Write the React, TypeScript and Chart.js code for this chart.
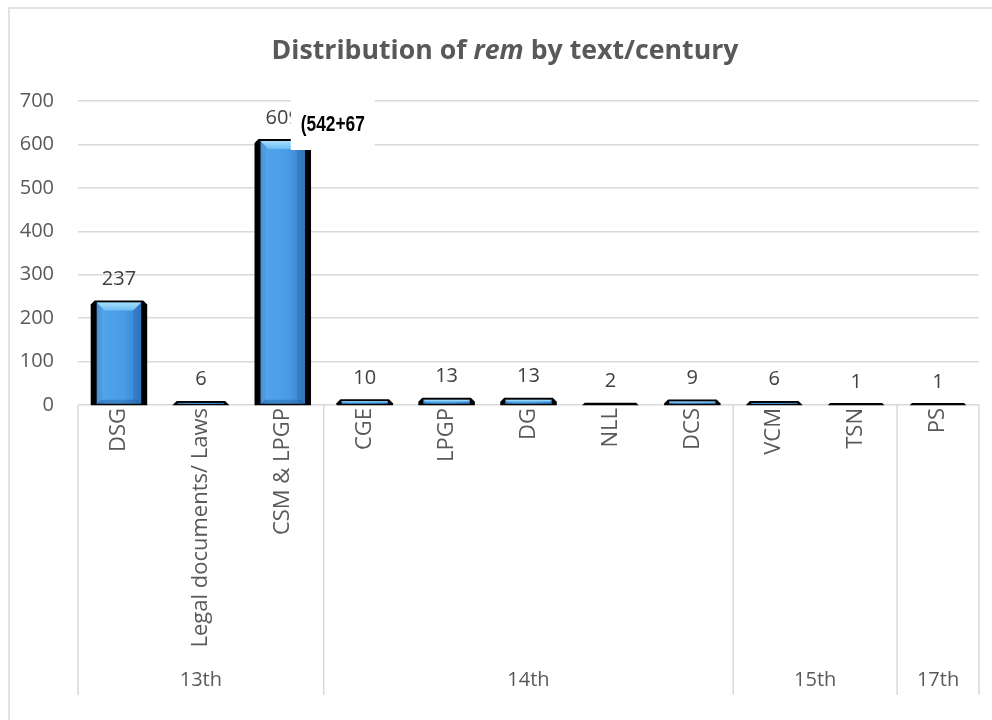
import React, { useEffect, useRef } from "react";
import { Chart, registerables } from "chart.js";

Chart.register(...registerables);

// Texts (first axis level) and the number of occurrences of "rem" in each
const texts = [
  "DSG",
  "Legal documents/ Laws",
  "CSM & LPGP",
  "CGE",
  "LPGP",
  "DG",
  "NLL",
  "DCS",
  "VCM",
  "TSN",
  "PS",
];
const counts = [237, 6, 609, 10, 13, 13, 2, 9, 6, 1, 1];

// Second axis level: centuries and how many texts belong to each
const centuries = ["13th", "14th", "15th", "17th"];
const centurySpans = [3, 5, 2, 1];

// Value axis
const yMin = 0;
const yMax = 700;
const yStep = 100;

// Title pieces (the word "rem" is set in italics)
const titleParts = [
  { text: "Distribution of ", italic: false },
  { text: "rem", italic: true },
  { text: " by text/century", italic: false },
];

// Breakdown note pasted over the CSM & LPGP bar
const csmNote = "(542+67";

const FONT = "'Open Sans', sans-serif";
const GRID = "#d9d9d9";
const TEXT = "#595959";

const framePlugin = {
  id: "frame",
  beforeDraw(chart: any) {
    const ctx = chart.ctx;
    ctx.save();
    ctx.fillStyle = "#ffffff";
    ctx.fillRect(0, 0, chart.width, chart.height);
    ctx.strokeStyle = GRID;
    ctx.lineWidth = 1.5;
    ctx.beginPath();
    ctx.moveTo(9, chart.height + 2);
    ctx.lineTo(9, 8);
    ctx.lineTo(chart.width + 2, 8);
    ctx.stroke();
    ctx.restore();
  },
};

const titlePlugin = {
  id: "richTitle",
  afterDraw(chart: any) {
    const ctx = chart.ctx;
    ctx.save();
    const size = 26.7;
    const fontFor = (italic: boolean) => `${italic ? "italic " : ""}bold ${size}px ${FONT}`;
    let total = 0;
    const widths = titleParts.map((p) => {
      ctx.font = fontFor(p.italic);
      const w = ctx.measureText(p.text).width;
      total += w;
      return w;
    });
    let x = 505 - total / 2;
    ctx.fillStyle = TEXT;
    ctx.textBaseline = "alphabetic";
    ctx.textAlign = "left";
    titleParts.forEach((p, i) => {
      ctx.font = fontFor(p.italic);
      ctx.fillText(p.text, x, 59);
      x += widths[i];
    });
    ctx.restore();
  },
};

const bevelBarsPlugin = {
  id: "bevelBars",
  afterDatasetsDraw(chart: any) {
    const ctx = chart.ctx;
    const meta = chart.getDatasetMeta(0);
    ctx.save();
    meta.data.forEach((el: any) => {
      const { x, y, base, width } = el.getProps(["x", "y", "base", "width"], true);
      const L = x - width / 2;
      const R = x + width / 2;
      const top = y - 1.5;
      const h = base + 1 - top;
      const c = Math.min(4, h);

      // dark outer body with chamfered top corners
      ctx.fillStyle = "#000000";
      ctx.beginPath();
      ctx.moveTo(L, base + 1);
      ctx.lineTo(L, top + c);
      ctx.lineTo(L + c, top);
      ctx.lineTo(R - c, top);
      ctx.lineTo(R, top + c);
      ctx.lineTo(R, base + 1);
      ctx.closePath();
      ctx.fill();

      const inset = h > 14 ? 6 : c + 1;
      const iL = L + inset;
      const iR = R - inset;
      const iT = top + 2;
      const iB = base - 0.5;
      if (iB - iT < 0.8) return;

      const g = ctx.createLinearGradient(iL, 0, iR, 0);
      g.addColorStop(0, "#3a88d2");
      g.addColorStop(0.2, "#4ea2ea");
      g.addColorStop(0.6, "#4a9ce6");
      g.addColorStop(1, "#3681cc");
      ctx.fillStyle = g;
      ctx.fillRect(iL, iT, iR - iL, iB - iT);

      const bv = Math.min(8, (iB - iT) / 2, (iR - iL) / 2);
      // top bevel highlight
      const tg = ctx.createLinearGradient(0, iT, 0, iT + bv);
      tg.addColorStop(0, "#a6defc");
      tg.addColorStop(1, "#6cbcf4");
      ctx.fillStyle = tg;
      ctx.beginPath();
      ctx.moveTo(iL, iT);
      ctx.lineTo(iR, iT);
      ctx.lineTo(iR - bv, iT + bv);
      ctx.lineTo(iL + bv, iT + bv);
      ctx.closePath();
      ctx.fill();

      if (iB - iT > 16) {
        const bb = Math.min(4, bv);
        // left facet slightly lighter
        ctx.fillStyle = "rgba(255,255,255,0.07)";
        ctx.beginPath();
        ctx.moveTo(iL, iT);
        ctx.lineTo(iL + bv, iT + bv);
        ctx.lineTo(iL + bv, iB - bb);
        ctx.lineTo(iL, iB);
        ctx.closePath();
        ctx.fill();
        // right facet slightly darker
        ctx.fillStyle = "rgba(0,30,80,0.12)";
        ctx.beginPath();
        ctx.moveTo(iR, iT);
        ctx.lineTo(iR - bv, iT + bv);
        ctx.lineTo(iR - bv, iB - bb);
        ctx.lineTo(iR, iB);
        ctx.closePath();
        ctx.fill();
        // bottom facet darker
        ctx.fillStyle = "rgba(0,40,100,0.22)";
        ctx.beginPath();
        ctx.moveTo(iL, iB);
        ctx.lineTo(iL + bb, iB - bb);
        ctx.lineTo(iR - bb, iB - bb);
        ctx.lineTo(iR, iB);
        ctx.closePath();
        ctx.fill();
      }
    });

    // value labels above each bar
    ctx.fillStyle = "#404040";
    ctx.font = `20px ${FONT}`;
    ctx.textAlign = "center";
    ctx.textBaseline = "alphabetic";
    meta.data.forEach((el: any, i: number) => {
      const { x, y } = el.getProps(["x", "y"], true);
      ctx.fillText(String(counts[i]), x, y - 17);
    });
    ctx.restore();
  },
};

const centuryAxisPlugin = {
  id: "centuryAxis",
  afterDraw(chart: any) {
    const ctx = chart.ctx;
    const xs = chart.scales.x;
    const area = chart.chartArea;
    const step = xs.getPixelForValue(1) - xs.getPixelForValue(0);
    const left = xs.getPixelForValue(0) - step / 2;
    const bottom = xs.bottom;
    ctx.save();
    ctx.strokeStyle = GRID;
    ctx.lineWidth = 1.5;
    let idx = 0;
    const bounds: number[] = [left];
    centurySpans.forEach((n) => {
      idx += n;
      bounds.push(left + idx * step);
    });
    ctx.beginPath();
    bounds.forEach((bx) => {
      ctx.moveTo(bx, area.bottom);
      ctx.lineTo(bx, bottom);
    });
    ctx.stroke();
    ctx.fillStyle = TEXT;
    ctx.font = `20px ${FONT}`;
    ctx.textAlign = "center";
    ctx.textBaseline = "middle";
    centuries.forEach((c, i) => {
      ctx.fillText(c, (bounds[i] + bounds[i + 1]) / 2, bottom - 15);
    });
    ctx.restore();
  },
};

const notePlugin = {
  id: "csmNote",
  afterDraw(chart: any) {
    const ctx = chart.ctx;
    const xs = chart.scales.x;
    const ys = chart.scales.y;
    const cx = xs.getPixelForValue(2);
    const boxL = cx + 8;
    const boxT = ys.getPixelForValue(yMax) - 1;
    ctx.save();
    ctx.fillStyle = "#ffffff";
    ctx.fillRect(boxL, boxT, 84, 50);
    ctx.font = `bold 22px 'Liberation Sans', Arial, sans-serif`;
    const w = ctx.measureText(csmNote).width;
    const sx = 64 / w;
    ctx.translate(boxL + 10, boxT + 31);
    ctx.scale(sx, 1);
    ctx.fillStyle = "#000000";
    ctx.textAlign = "left";
    ctx.textBaseline = "alphabetic";
    ctx.fillText(csmNote, 0, 0);
    ctx.restore();
  },
};

function RemChart() {
  const ref = useRef<HTMLCanvasElement | null>(null);

  useEffect(() => {
    if (!ref.current) return;
    const chart = new Chart(ref.current, {
      type: "bar",
      data: {
        labels: texts,
        datasets: [
          {
            data: counts,
            backgroundColor: "rgba(0,0,0,0)",
            borderWidth: 0,
            categoryPercentage: 1,
            barPercentage: 0.69,
          },
        ],
      },
      options: {
        animation: false,
        responsive: false,
        maintainAspectRatio: false,
        layout: { padding: { top: 101, right: 13, bottom: 25, left: 0 } },
        plugins: {
          legend: { display: false },
          title: { display: false },
          tooltip: { enabled: false },
        },
        scales: {
          x: {
            grid: { display: false, drawTicks: false },
            border: { display: false },
            ticks: {
              autoSkip: false,
              minRotation: 90,
              maxRotation: 90,
              padding: 3,
              color: TEXT,
              font: { family: FONT, size: 22 },
            },
            afterFit(scale: any) {
              scale.height = 290;
            },
          },
          y: {
            min: yMin,
            max: yMax,
            grid: { color: GRID, lineWidth: 1.5, drawTicks: false },
            border: { display: false },
            ticks: {
              stepSize: yStep,
              padding: 24,
              color: TEXT,
              font: { family: FONT, size: 20 },
            },
            afterFit(scale: any) {
              scale.width = 78;
            },
          },
        },
      },
      plugins: [framePlugin, bevelBarsPlugin, centuryAxisPlugin, notePlugin, titlePlugin],
    });
    return () => chart.destroy();
  }, []);

  return <canvas ref={ref} width={992} height={720} style={{ display: "block" }} />;
}

export default function App() {
  return (
    <div style={{ position: "absolute", left: 0, top: 0, width: 992, height: 720, background: "#fff" }}>
      <RemChart />
    </div>
  );
}
